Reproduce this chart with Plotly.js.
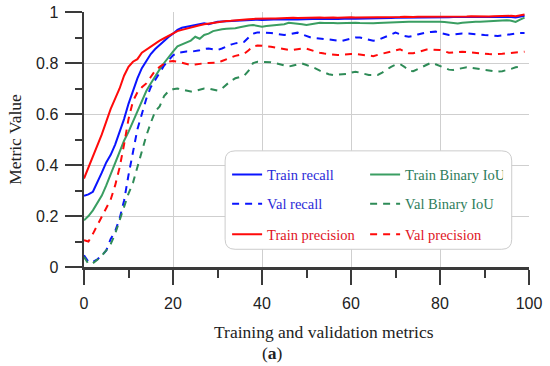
<!DOCTYPE html>
<html>
<head>
<meta charset="utf-8">
<script src="https://cdn.plot.ly/plotly-3.0.1.min.js"></script>
<style>html,body{margin:0;padding:0;background:#fff;}#chart{width:550px;height:366px;}</style>
</head>
<body>
<div id="chart"></div>
<script>
// Training metrics per epoch (epoch = index 0..99)
const trainRecall = [0.279,0.285,0.295,0.33,0.37,0.41,0.44,0.48,0.53,0.58,0.64,0.69,0.74,0.78,0.81,0.835,0.855,0.872,0.888,0.902,
0.915,0.93,0.938,0.942,0.945,0.95,0.953,0.956,0.952,0.958,0.962,0.963,0.964,0.966,0.967,0.967,0.968,0.97,0.971,0.97,
0.969,0.97,0.971,0.971,0.972,0.971,0.972,0.972,0.971,0.972,0.973,0.972,0.973,0.974,0.973,0.974,0.974,0.973,0.974,0.974,
0.975,0.974,0.974,0.975,0.975,0.975,0.976,0.976,0.976,0.976,0.977,0.977,0.977,0.977,0.977,0.978,0.978,0.978,0.978,0.979,
0.979,0.979,0.979,0.98,0.98,0.98,0.98,0.98,0.981,0.981,0.981,0.981,0.982,0.982,0.982,0.981,0.98,0.978,0.982,0.985];

const trainIoU = [0.183,0.2,0.222,0.25,0.28,0.32,0.365,0.41,0.455,0.495,0.53,0.57,0.61,0.65,0.69,0.72,0.75,0.775,0.8,0.825,
0.845,0.865,0.873,0.878,0.888,0.903,0.895,0.91,0.915,0.925,0.93,0.932,0.934,0.935,0.936,0.94,0.944,0.947,0.949,0.945,
0.942,0.945,0.947,0.948,0.949,0.952,0.958,0.957,0.955,0.952,0.949,0.953,0.956,0.958,0.957,0.958,0.957,0.956,0.957,0.956,
0.957,0.958,0.957,0.956,0.955,0.956,0.957,0.958,0.958,0.959,0.96,0.961,0.961,0.962,0.962,0.961,0.962,0.962,0.963,0.962,
0.962,0.961,0.959,0.957,0.955,0.958,0.96,0.961,0.962,0.962,0.963,0.964,0.964,0.965,0.966,0.968,0.966,0.961,0.97,0.978];

const valRecall = [0.046,0.02,0.02,0.03,0.045,0.065,0.11,0.14,0.19,0.26,0.36,0.45,0.54,0.6,0.66,0.705,0.735,0.76,0.79,0.81,
0.83,0.84,0.842,0.845,0.844,0.846,0.85,0.855,0.857,0.854,0.851,0.857,0.865,0.872,0.877,0.88,0.883,0.9,0.915,0.92,
0.92,0.919,0.918,0.915,0.912,0.91,0.912,0.916,0.919,0.912,0.905,0.9,0.898,0.895,0.894,0.893,0.89,0.888,0.887,0.892,
0.897,0.9,0.9,0.895,0.89,0.887,0.89,0.898,0.905,0.913,0.919,0.913,0.906,0.903,0.906,0.912,0.917,0.92,0.922,0.923,
0.918,0.913,0.91,0.912,0.915,0.916,0.916,0.914,0.912,0.911,0.91,0.909,0.907,0.906,0.908,0.911,0.914,0.916,0.918,0.918];

const valIoU = [0.04,0.012,0.015,0.028,0.045,0.065,0.09,0.13,0.183,0.235,0.288,0.33,0.39,0.458,0.515,0.565,0.61,0.63,0.67,0.69,
0.697,0.7,0.697,0.693,0.688,0.69,0.696,0.7,0.7,0.696,0.692,0.7,0.715,0.73,0.74,0.745,0.75,0.77,0.8,0.805,
0.805,0.805,0.803,0.8,0.795,0.79,0.786,0.79,0.795,0.798,0.792,0.786,0.779,0.77,0.762,0.756,0.753,0.754,0.756,0.757,
0.762,0.766,0.762,0.757,0.753,0.753,0.753,0.762,0.775,0.785,0.793,0.796,0.785,0.77,0.768,0.777,0.785,0.793,0.801,0.795,
0.787,0.78,0.774,0.773,0.777,0.781,0.783,0.781,0.778,0.775,0.772,0.769,0.767,0.766,0.768,0.772,0.777,0.783,0.785];

const trainPrecision = [0.347,0.39,0.43,0.48,0.52,0.57,0.62,0.66,0.7,0.75,0.785,0.805,0.815,0.84,0.852,0.865,0.878,0.888,0.897,0.906,
0.915,0.925,0.93,0.935,0.94,0.943,0.948,0.952,0.955,0.958,0.962,0.963,0.965,0.966,0.968,0.968,0.97,0.972,0.973,0.974,
0.975,0.974,0.975,0.975,0.976,0.975,0.976,0.977,0.976,0.977,0.977,0.976,0.977,0.978,0.977,0.978,0.978,0.977,0.978,0.978,
0.979,0.978,0.978,0.979,0.979,0.978,0.979,0.98,0.98,0.979,0.98,0.98,0.981,0.98,0.98,0.981,0.981,0.98,0.981,0.982,
0.981,0.981,0.982,0.982,0.981,0.982,0.982,0.983,0.982,0.983,0.983,0.982,0.983,0.984,0.984,0.984,0.985,0.983,0.986,0.99];

const valPrecision = [0.105,0.1,0.13,0.165,0.195,0.23,0.265,0.32,0.39,0.48,0.58,0.65,0.685,0.705,0.72,0.745,0.77,0.785,0.797,0.805,
0.808,0.805,0.8,0.795,0.792,0.794,0.797,0.799,0.8,0.8,0.801,0.808,0.815,0.822,0.828,0.832,0.836,0.85,0.865,0.869,
0.868,0.867,0.864,0.861,0.858,0.855,0.851,0.852,0.855,0.857,0.856,0.85,0.845,0.84,0.837,0.834,0.832,0.831,0.832,0.834,
0.835,0.835,0.833,0.83,0.828,0.827,0.832,0.837,0.84,0.846,0.852,0.854,0.845,0.838,0.838,0.843,0.849,0.853,0.853,0.852,
0.851,0.846,0.84,0.841,0.843,0.844,0.843,0.841,0.84,0.838,0.837,0.835,0.834,0.834,0.836,0.838,0.839,0.84,0.842,0.844];

const seriesNames = ['Train recall','Train Binary IoU','Val recall','Val Binary IoU','Train precision','Val precision'];
const xTickVals = [0,20,40,60,80,100];
const yTickVals = [0,0.2,0.4,0.6,0.8,1];

const BLUE='#0a14ff', RED='#ff0a0a', GREEN='#3a9e62', GREEN_D='#2e8b57';
const BLUE_T='#2a2ad8', RED_T='#e0141e', GREEN_T='#2e7d5b';
const DASH='7px,6px';

function tr(y, name, color, txtColor, dash, legend){
  return {y:y, type:'scatter', mode:'lines', name:'<span style="color:'+txtColor+'">'+name+'</span>',
    line:{color:color, width:2, dash:dash}, legend:legend, hoverinfo:'skip'};
}
const data = [
  tr(trainRecall, seriesNames[0], BLUE, BLUE_T, 'solid', 'legend'),
  tr(trainIoU, seriesNames[1], GREEN, GREEN_T, 'solid', 'legend'),
  tr(valRecall, seriesNames[2], BLUE, BLUE_T, DASH, 'legend2'),
  tr(valIoU, seriesNames[3], GREEN_D, GREEN_T, DASH, 'legend2'),
  tr(trainPrecision, seriesNames[4], RED, RED_T, 'solid', 'legend3'),
  tr(valPrecision, seriesNames[5], RED, RED_T, DASH, 'legend3')
];

const L=83.7, R=20.7, T=12, B=99.3, W=550, H=366;
const pw=W-L-R, ph=H-T-B;
function px(x){return (x-L)/pw;}
function py(y){return (H-B-y)/ph;}

const legFont = {family:'"Liberation Serif", "Times New Roman", serif', size:14.5};
function leg(yc){
  return {orientation:'h', x:px(227), xanchor:'left', y:py(yc), yanchor:'middle',
    bgcolor:'rgba(0,0,0,0)', borderwidth:0, font:legFont, entrywidth:93, entrywidthmode:'pixels',
    traceorder:'normal'};
}

// rounded legend frame
const x0=px(225), x1=px(512), yt=py(150.7), yb=py(249), rx=10/pw, ry=10/ph;
const framePath = `M${x0+rx},${yt} L${x1-rx},${yt} Q${x1},${yt} ${x1},${yt-ry} L${x1},${yb+ry} Q${x1},${yb} ${x1-rx},${yb} L${x0+rx},${yb} Q${x0},${yb} ${x0},${yb+ry} L${x0},${yt-ry} Q${x0},${yt} ${x0+rx},${yt} Z`;

const axisCol='#3a3a3a', gridCol='#cfcfcf';
const tickFont={family:'"Liberation Sans", Arial, sans-serif', size:16, color:'#222'};
const titleFont={family:'"Liberation Serif", "Times New Roman", serif', size:17.5, color:'#222'};

const layout = {
  width:W, height:H, margin:{l:L, r:R, t:T, b:B, pad:0},
  paper_bgcolor:'#fff', plot_bgcolor:'#fff', showlegend:true,
  xaxis:{range:[0,100], tickvals:xTickVals, ticks:'outside', ticklen:15, tickwidth:2, tickcolor:axisCol,
    showline:true, linecolor:axisCol, linewidth:2.5, showgrid:true, gridcolor:gridCol, gridwidth:1,
    zeroline:false, tickfont:tickFont, ticklabelstandoff:5, automargin:false, fixedrange:true,
    minor:{dtick:10, tick0:0, ticks:'outside', ticklen:8, tickwidth:2, tickcolor:axisCol, showgrid:false}},
  yaxis:{range:[0,1], tickvals:yTickVals, ticks:'outside', ticklen:17, tickwidth:2, tickcolor:axisCol,
    showline:true, linecolor:axisCol, linewidth:2.5, showgrid:true, gridcolor:gridCol, gridwidth:1,
    zeroline:false, tickfont:tickFont, ticklabelstandoff:3, automargin:false, fixedrange:true,
    title:{text:'Metric Value', font:titleFont, standoff:10},
    minor:{dtick:0.1, tick0:0, ticks:'outside', ticklen:7, tickwidth:2, tickcolor:axisCol, showgrid:false}},
  legend:leg(174.3), legend2:leg(203.5), legend3:leg(234),
  shapes:[{type:'path', xref:'paper', yref:'paper', path:framePath, fillcolor:'#fff',
    line:{color:'#cccccc', width:1}, layer:'above'}],
  annotations:[
    {xref:'paper', yref:'paper', x:px(324), y:py(331.5), xanchor:'center', yanchor:'middle', showarrow:false,
     text:'Training and validation metrics', font:titleFont},
    {xref:'paper', yref:'paper', x:px(272.5), y:py(352.5), xanchor:'center', yanchor:'middle', showarrow:false,
     text:'(<b>a</b>)', font:titleFont}
  ]
};

Plotly.newPlot('chart', data, layout, {displayModeBar:false, staticPlot:true});
</script>
</body>
</html>
